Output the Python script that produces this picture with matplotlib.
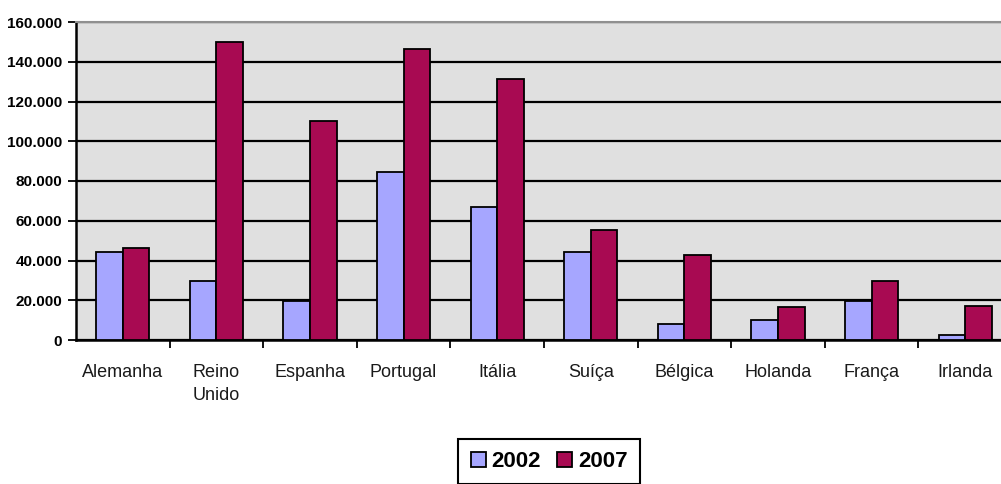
import matplotlib
matplotlib.use('Agg')
import matplotlib.pyplot as plt
from matplotlib.ticker import FuncFormatter, FixedLocator
import numpy as np

paises = ['Alemanha', 'Reino\nUnido', 'Espanha', 'Portugal', 'Itália',
          'Suíça', 'Bélgica', 'Holanda', 'França', 'Irlanda']
anos = ['2002', '2007']
v2002 = [44500, 29700, 19800, 84500, 67000, 44500, 8000, 10000, 19800, 2500]
v2007 = [46300, 149800, 110300, 146400, 131500, 55500, 42800, 16400, 29800, 17300]

lilas = '#a6a6ff'
bordo = '#a80a52'
fundo = '#e0e0e0'

plt.rcParams['font.family'] = ['Liberation Sans', 'DejaVu Sans']

fig = plt.figure(figsize=(10.01, 4.84), dpi=100)
W, H = 1001, 484
ax = fig.add_axes([76 / W, 1 - 340 / H, 936 / W, 318 / H])
ax.set_facecolor(fundo)

x = np.arange(len(paises))
bw = 0.285
ax.bar(x - bw / 2, v2002, bw, color=lilas, edgecolor='black', linewidth=1.3, label=anos[0], zorder=3)
ax.bar(x + bw / 2, v2007, bw, color=bordo, edgecolor='black', linewidth=1.3, label=anos[1], zorder=3)

ax.set_xlim(-0.5, len(paises) - 0.5)
ax.set_ylim(0, 160000)
ax.set_yticks(range(0, 160001, 20000))
ax.yaxis.set_major_formatter(FuncFormatter(lambda v, p: f'{int(v):,}'.replace(',', '.')))
ax.grid(axis='y', color='black', linewidth=1.6, zorder=1)
ax.set_axisbelow(True)

ax.set_xticks(x)
ax.set_xticklabels(paises, fontsize=13, color='#1a1a1a', linespacing=1.5)
ax.xaxis.set_minor_locator(FixedLocator(x[:-1] + 0.5))
ax.tick_params(axis='x', which='major', length=0, pad=17)
ax.tick_params(axis='x', which='minor', length=6, width=1.3, direction='out')
ax.tick_params(axis='y', length=6, width=1.3, pad=4, labelsize=11)
for t in ax.get_yticklabels():
    t.set_fontweight('bold')

for s in ['left', 'bottom']:
    ax.spines[s].set_linewidth(1.8)
    ax.spines[s].set_color('black')
ax.spines['top'].set_color('#909090')
ax.spines['top'].set_linewidth(1.5)
ax.spines['right'].set_visible(False)

leg = fig.legend(loc='upper center', bbox_to_anchor=(549 / W, 1 - 439 / H), ncol=2,
                 frameon=True, fancybox=False, edgecolor='black', framealpha=1,
                 prop={'size': 16, 'weight': 'bold'}, handlelength=0.7, handleheight=0.7,
                 handletextpad=0.25, columnspacing=0.7, borderpad=0.55, borderaxespad=0)
leg.get_frame().set_linewidth(1.5)

fig.savefig('out.png', dpi=100)
